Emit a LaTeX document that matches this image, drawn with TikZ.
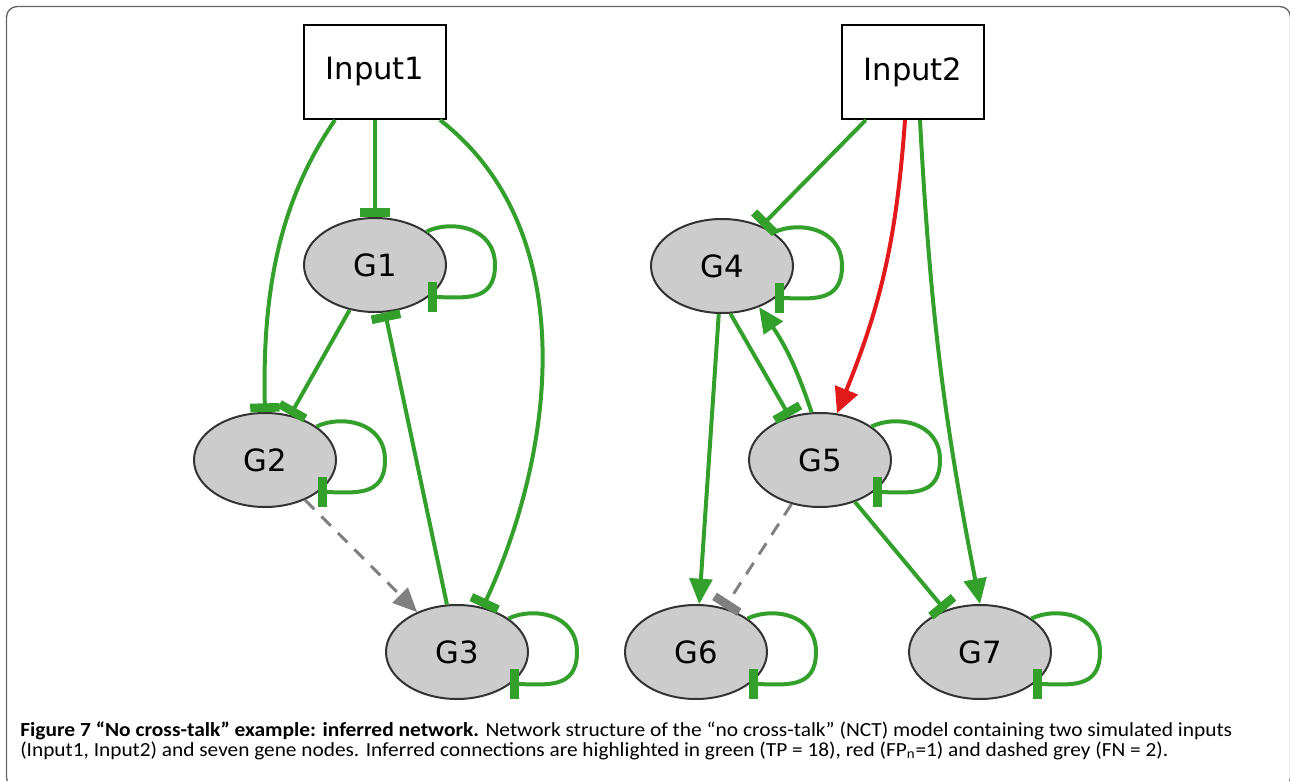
\documentclass[tikz,border=0pt]{standalone}
\usepackage{fontspec}
\setmainfont{Carlito}
\newfontfamily\dvfont{DejaVu Sans}
\usetikzlibrary{arrows.meta,calc,shapes.geometric}
\definecolor{eg}{RGB}{51,160,44}
\definecolor{er}{RGB}{227,26,28}
\definecolor{eq}{RGB}{128,128,128}
\definecolor{nf}{RGB}{204,204,204}
\definecolor{nb}{RGB}{51,51,51}
\definecolor{frame}{RGB}{100,100,100}
\begin{document}
\begin{tikzpicture}[x=0.75pt,y=-0.75pt,
  gene/.style={ellipse,draw=nb,fill=nf,line width=1.5pt,minimum width=106.5pt,minimum height=70.5pt,inner sep=0pt,font=\dvfont\fontsize{23}{27}\selectfont},
  inbox/.style={rectangle,draw=black,fill=white,line width=1.5pt,minimum width=106.5pt,minimum height=70.5pt,inner sep=0pt,font=\dvfont\fontsize{23}{27}\selectfont},
  edgeline/.style={line width=3pt},
  gact/.style={edgeline,draw=eg,-{Triangle[length=19pt,width=17pt]}},
  ginh/.style={edgeline,draw=eg,-{Rectangle[length=6.5pt,width=22pt]}},
  ract/.style={edgeline,draw=er,-{Triangle[length=19pt,width=18pt]}},
  dact/.style={line width=2.2pt,draw=eq,dash pattern=on 10pt off 7.5pt,-{Triangle[length=18pt,width=16pt]}},
  dinh/.style={line width=2.2pt,draw=eq,dash pattern=on 10pt off 7.5pt,-{Rectangle[length=6.5pt,width=22pt]}},
  captext/.style={anchor=base west,inner sep=0pt,font=\fontsize{15}{17}\selectfont}
]
\useasboundingbox (0,0) rectangle (1290,781);
\draw[frame,line width=1pt,rounded corners=8] (6.5,6.5) rectangle (1290.5,788);

% nodes
\node[inbox] (Input1) at (375,72) {Input1};
\node[inbox] (Input2) at (913,72) {Input2};
\node[gene] (G1) at (375,265) {G1};
\node[gene] (G2) at (265,460) {G2};
\node[gene] (G3) at (457,652) {G3};
\node[gene] (G4) at (722,266) {G4};
\node[gene] (G5) at (820,460) {G5};
\node[gene] (G6) at (696,652) {G6};
\node[gene] (G7) at (980,652) {G7};

% left cluster
\draw[ginh] (Input1) -- (G1);
\draw[ginh] ($(Input1.south)+(-40,0)$) .. controls (280,200) and (262,290) .. (G2.north);
\draw[ginh] ($(Input1.south)+(65,0)$) .. controls (582,230) and (556,450) .. (G3.60);
\draw[ginh] (G1) -- (G2);
\draw[ginh] (G3) -- (G1);
\draw[dact] (G2) -- (G3);

% right cluster
\draw[ginh] (Input2) -- (G4);
\draw[ract] ($(Input2.south)+(-8,0)$) to[bend left=9] (G5.70);
\draw[gact] ($(Input2.south)+(7,0)$) to[bend right=4] (G7.north);
\draw[ginh] (G4.-80) -- (G5.125);
\draw[gact] (G5.100) to[bend right=8] (G4.-48);
\draw[gact] (G4) -- (G6);
\draw[dinh] (G5) -- (G6);
\draw[ginh] (G5) -- (G7);

% self loops
\foreach \n in {G1,G2,G3,G4,G5,G6,G7}{
  \draw[ginh] (\n.33) .. controls +(25,-12) and +(0,-38) .. ($(\n)+(120,0)$)
     .. controls +(0,38) and +(35,0) .. (\n.-31);
}

% caption
\node[captext] (cap1) at (20,736) {\resizebox{909pt}{\height}{\textbf{Figure 7 “No cross-talk” example: inferred network.} Network structure of the “no cross-talk” (NCT) model containing two simulated inputs}};
\node[captext] (cap2) at (20,756) {\resizebox{861pt}{\height}{(Input1, Input2) and seven gene nodes. Inferred connections are highlighted in green (TP = 18), red (FP\textsubscript{n}=1) and dashed grey (FN = 2).}};
\end{tikzpicture}
\end{document}
